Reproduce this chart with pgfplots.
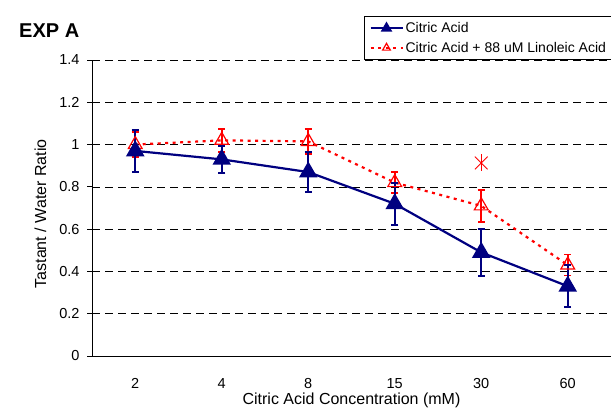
\documentclass[border=0pt]{standalone}
\usepackage{fontspec}
\setmainfont{Liberation Sans}
\usepackage{pgfplots}
\pgfplotsset{compat=1.18}
\definecolor{navyc}{RGB}{0,0,128}
\definecolor{redc}{RGB}{255,0,0}
\begin{document}
\begin{tikzpicture}[x=1pt,y=1pt]
\path[use as bounding box] (0,0) rectangle (611,408);
\node[font=\bfseries\fontsize{20}{22}\selectfont, anchor=base west, inner sep=0pt] at (19,370.5) {EXP A};
\begin{axis}[
  at={(92pt,52pt)}, anchor=south west,
  scale only axis, width=519pt, height=296pt,
  xmin=0.5, xmax=6.5, ymin=0, ymax=1.4,
  axis x line*=bottom, axis y line*=left,
  axis line style={black, line width=0.8pt},
  xtick={1,2,3,4,5,6},
  xticklabels={2,4,8,15,30,60},
  xtick style={draw=none},
  extra x ticks={0.5,1.5,2.5,3.5,4.5,5.5,6.5},
  extra x tick labels={},
  extra x tick style={tick style={draw=black, line width=0.8pt}, major tick length=5pt, grid=none},
  ytick={0,0.2,0.4,0.6,0.8,1,1.2,1.4},
  ytick style={draw=black, line width=0.8pt},
  tick align=outside, major tick length=5pt,
  ymajorgrids,
  major grid style={black, line width=0.7pt, dash pattern=on 8pt off 5pt},
  /pgf/number format/assume math mode=true,
  tick label style={font=\fontsize{14.5}{16}\selectfont},
  yticklabel style={anchor=east, xshift=-4pt},
  xticklabel style={anchor=north, yshift=-14pt},
  xlabel={Citric Acid Concentration (mM)},
  ylabel={Tastant / Water Ratio},
  label style={font=\fontsize{16}{18}\selectfont},
  xlabel style={at={(rel axis cs:0.5,0)}, anchor=base, yshift=-48pt},
  ylabel style={at={(rel axis cs:-0.0886,0.48)}, anchor=base},
  clip=false,
  reverse legend,
  legend style={at={(rel axis cs:0.5241,1.1486)}, anchor=north west,
    draw=black, line width=0.8pt, fill=white,
    font=\fontsize{14}{15}\selectfont,
    inner xsep=5pt, inner ysep=4pt, row sep=4pt,
    legend cell align=left},
  legend image code/.code={
    \draw[mark repeat=2, mark phase=2, #1, mark size=4.5pt] plot coordinates {(0pt,0pt) (16pt,0pt) (32pt,0pt)};
  },
]
\addplot[redc, line width=2.2pt, dash pattern=on 3pt off 4.5pt,
  mark=triangle, mark size=8pt,
  mark options={solid, line width=1.2pt, fill=none},
  error bars/.cd, y dir=both, y explicit,
  error bar style={solid, line width=1.6pt, redc},
  error mark options={rotate=90, mark size=3.5pt, line width=1.6pt, redc, solid}]
coordinates {
(1,1.00) +- (0,0.06)
(2,1.02) +- (0,0.055)
(3,1.015) +- (0,0.06)
(4,0.82) +- (0,0.05)
(5,0.71) +- (0,0.075)
(6,0.43) +- (0,0.05)
};
\addlegendentry{Citric Acid + 88 uM Linoleic Acid}
\addplot[navyc, line width=2.2pt,
  mark=triangle*, mark size=8.5pt, mark options={solid, fill=navyc},
  error bars/.cd, y dir=both, y explicit,
  error bar style={solid, line width=1.8pt, navyc},
  error mark options={rotate=90, mark size=3.5pt, line width=1.8pt, navyc}]
coordinates {
(1,0.97) +- (0,0.10)
(2,0.93) +- (0,0.065)
(3,0.87) +- (0,0.095)
(4,0.72) +- (0,0.10)
(5,0.49) +- (0,0.11)
(6,0.33) +- (0,0.10)
};
\addlegendentry{Citric Acid}
\addplot[redc, only marks, mark=x, mark size=9pt, mark options={line width=1pt}, forget plot]
coordinates {(5,0.913)};
\addplot[redc, only marks, mark=|, mark size=8.5pt, mark options={line width=1pt}, forget plot]
coordinates {(5,0.913)};
\end{axis}
\end{tikzpicture}
\end{document}
